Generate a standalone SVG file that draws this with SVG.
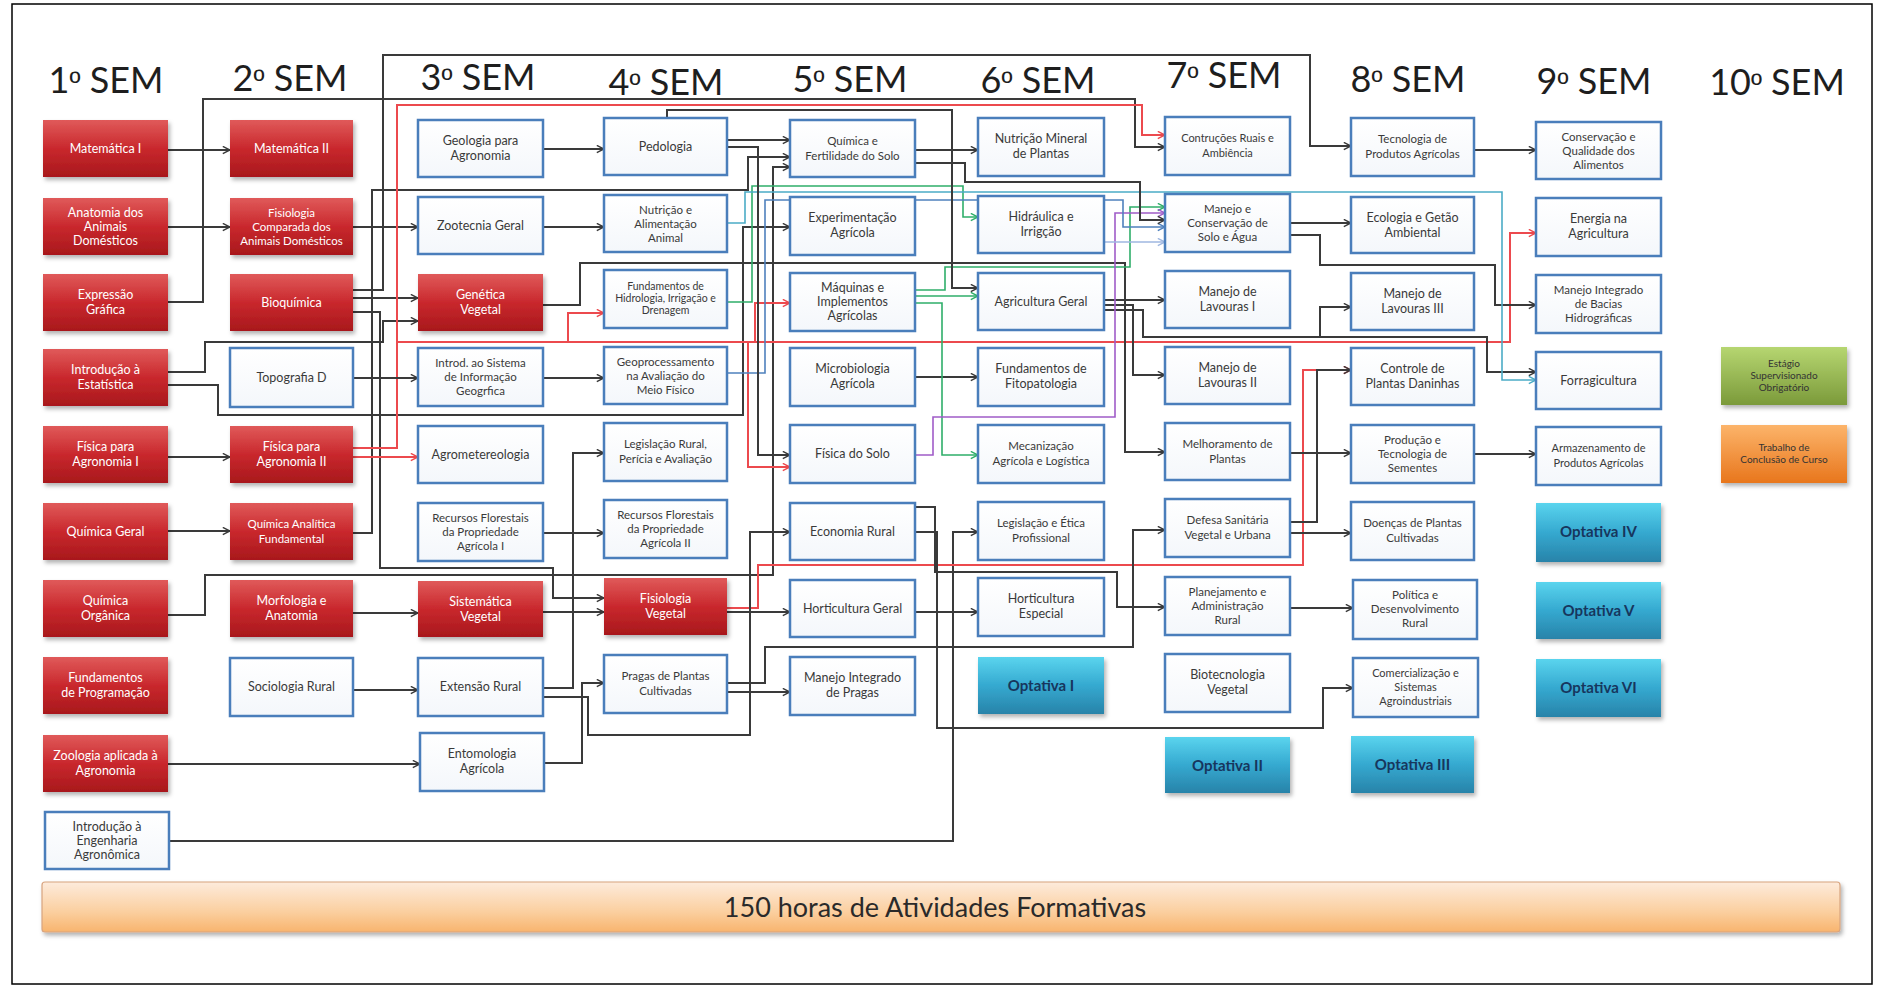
<svg xmlns="http://www.w3.org/2000/svg" width="1881" height="988" viewBox="0 0 1881 988">
<style>
.hd{font-family:Lato,"Liberation Sans",sans-serif;font-size:36px;fill:#1e1e1e;text-anchor:middle}
.o{font-family:"Liberation Sans",sans-serif;font-size:30px}
.t{font-family:Lato,"Liberation Sans",sans-serif;font-size:12.5px;text-anchor:middle}
.tw{fill:#ffffff}
.td{fill:#3a3a3a}
.to{font-family:Lato,"Liberation Sans",sans-serif;font-size:15px;font-weight:bold;text-anchor:middle;fill:#17365d}
.ts{font-family:Lato,"Liberation Sans",sans-serif;font-size:10px;fill:#333;text-anchor:middle}
.red{fill:url(#gRed);filter:url(#sh)}
.wht{fill:url(#gWht);stroke:#4a7ebb;stroke-width:2.5}
.opt{fill:url(#gOpt);filter:url(#sh)}
.c{fill:none;stroke-linejoin:miter}
.k{stroke:#3a3a3a;stroke-width:2;marker-end:url(#ak)}
.r{stroke:#ec4a4e;stroke-width:2;marker-end:url(#ar)}
.g{stroke:#2fae6a;stroke-width:1.6;marker-end:url(#ag)}
.cy{stroke:#4bacc6;stroke-width:1.6;marker-end:url(#ac)}
.b{stroke:#4f81bd;stroke-width:1.6;marker-end:url(#ab)}
.p{stroke:#a05cc8;stroke-width:1.6;marker-end:url(#ap)}
.lv{stroke:#9fb7e0;stroke-width:1.6;marker-end:url(#al)}
</style>
<defs>
<linearGradient id="gRed" x1="0" y1="0" x2="0" y2="1"><stop offset="0" stop-color="#e05a5a"/><stop offset="0.5" stop-color="#c9282d"/><stop offset="1" stop-color="#a8181c"/></linearGradient>
<linearGradient id="gWht" x1="0" y1="0" x2="0" y2="1"><stop offset="0" stop-color="#ffffff"/><stop offset="1" stop-color="#f4f7fb"/></linearGradient>
<linearGradient id="gOpt" x1="0" y1="0" x2="0" y2="1"><stop offset="0" stop-color="#5ad4ee"/><stop offset="0.5" stop-color="#35a9d0"/><stop offset="1" stop-color="#2883a9"/></linearGradient>
<linearGradient id="gGrn" x1="0" y1="0" x2="0" y2="1"><stop offset="0" stop-color="#b6d671"/><stop offset="1" stop-color="#7b9a3a"/></linearGradient>
<linearGradient id="gOrg" x1="0" y1="0" x2="0" y2="1"><stop offset="0" stop-color="#fcb46a"/><stop offset="1" stop-color="#e8761c"/></linearGradient>
<linearGradient id="gBar" x1="0" y1="0" x2="0" y2="1"><stop offset="0" stop-color="#fdebdc"/><stop offset="0.6" stop-color="#fbcf9f"/><stop offset="1" stop-color="#f8b46e"/></linearGradient>
<filter id="sh" x="-10%" y="-10%" width="125%" height="135%"><feDropShadow dx="2" dy="3" stdDeviation="2" flood-color="#000" flood-opacity="0.3"/></filter>
<marker id="ak" viewBox="0 0 10 10" refX="9" refY="5" markerWidth="9" markerHeight="9" markerUnits="userSpaceOnUse" orient="auto"><path d="M1,1 L9,5 L1,9" fill="none" stroke="#3a3a3a" stroke-width="1.6"/></marker>
<marker id="ar" viewBox="0 0 10 10" refX="9" refY="5" markerWidth="9" markerHeight="9" markerUnits="userSpaceOnUse" orient="auto"><path d="M1,1 L9,5 L1,9" fill="none" stroke="#ec4a4e" stroke-width="1.6"/></marker>
<marker id="ag" viewBox="0 0 10 10" refX="9" refY="5" markerWidth="9" markerHeight="9" markerUnits="userSpaceOnUse" orient="auto"><path d="M1,1 L9,5 L1,9" fill="none" stroke="#2fae6a" stroke-width="1.6"/></marker>
<marker id="ac" viewBox="0 0 10 10" refX="9" refY="5" markerWidth="9" markerHeight="9" markerUnits="userSpaceOnUse" orient="auto"><path d="M1,1 L9,5 L1,9" fill="none" stroke="#4bacc6" stroke-width="1.6"/></marker>
<marker id="ab" viewBox="0 0 10 10" refX="9" refY="5" markerWidth="9" markerHeight="9" markerUnits="userSpaceOnUse" orient="auto"><path d="M1,1 L9,5 L1,9" fill="none" stroke="#4f81bd" stroke-width="1.6"/></marker>
<marker id="ap" viewBox="0 0 10 10" refX="9" refY="5" markerWidth="9" markerHeight="9" markerUnits="userSpaceOnUse" orient="auto"><path d="M1,1 L9,5 L1,9" fill="none" stroke="#a05cc8" stroke-width="1.6"/></marker>
<marker id="al" viewBox="0 0 10 10" refX="9" refY="5" markerWidth="9" markerHeight="9" markerUnits="userSpaceOnUse" orient="auto"><path d="M1,1 L9,5 L1,9" fill="none" stroke="#9fb7e0" stroke-width="1.6"/></marker>
</defs>
<rect x="0" y="0" width="1881" height="988" fill="#ffffff"/>
<rect x="12" y="4" width="1860" height="980" fill="none" stroke="#000" stroke-width="1.5"/>

<g id="headers">
<text class="hd" x="106" y="93">1<tspan class="o">º</tspan> SEM</text>
<text class="hd" x="290" y="91">2<tspan class="o">º</tspan> SEM</text>
<text class="hd" x="478" y="90">3<tspan class="o">º</tspan> SEM</text>
<text class="hd" x="666" y="95">4<tspan class="o">º</tspan> SEM</text>
<text class="hd" x="850" y="92">5<tspan class="o">º</tspan> SEM</text>
<text class="hd" x="1038" y="93">6<tspan class="o">º</tspan> SEM</text>
<text class="hd" x="1224" y="88">7<tspan class="o">º</tspan> SEM</text>
<text class="hd" x="1408" y="92">8<tspan class="o">º</tspan> SEM</text>
<text class="hd" x="1594" y="94">9<tspan class="o">º</tspan> SEM</text>
<text class="hd" x="1777" y="95">10<tspan class="o">º</tspan> SEM</text>
</g>

<g id="connectors">
<path class="c k" d="M168,150 H230"/>
<path class="c k" d="M168,227 H230"/>
<path class="c k" d="M168,302 H203 V99 H1135 V147 H1165"/>
<path class="c k" d="M168,372 H205 V342 H383 V321 H418"/>
<path class="c k" d="M168,385 H218 V415 H743 V227 H790"/>
<path class="c k" d="M168,457 H230"/>
<path class="c k" d="M168,531 H230"/>
<path class="c k" d="M168,615 H205 V575 H773 V167 H790"/>
<path class="c k" d="M168,764 H420"/>
<path class="c k" d="M169,841 H953 V532 H978"/>
<path class="c k" d="M353,227 H418"/>
<path class="c k" d="M353,290 H383 V55 H1310 V146 H1351"/>
<path class="c k" d="M353,298 H418"/>
<path class="c k" d="M353,312 H380 V568 H553 V598 H604"/>
<path class="c k" d="M353,533 H372 V190 H748 V157 H790"/>
<path class="c r" d="M353,457 H418"/>
<path class="c r" d="M353,448 H397 V105 H1142 V135 H1165"/>
<path class="c r" d="M397,342 H1510 V233 H1536"/>
<path class="c r" d="M568,342 V313 H604"/>
<path class="c r" d="M755,342 V303 H790"/>
<path class="c r" d="M748,342 V467 H790"/>
<path class="c r" d="M727,608 H758 V565 H1303 V370 H1351"/>
<path class="c k" d="M543,149 H604"/>
<path class="c k" d="M543,227 H604"/>
<path class="c k" d="M543,305 H580 V263 H1125 V452 H1165"/>
<path class="c k" d="M1104,300 H1165"/>
<path class="c k" d="M1104,305 H1133 V375 H1165"/>
<path class="c k" d="M1104,310 H1143 V337 H1320 V307 H1351"/>
<path class="c k" d="M1320,337 H1487 V372 H1536"/>
<path class="c k" d="M543,378 H604"/>
<path class="c k" d="M353,378 H418"/>
<path class="c k" d="M543,533 H604"/>
<path class="c k" d="M353,613 H418"/>
<path class="c k" d="M543,612 H604"/>
<path class="c k" d="M353,690 H418"/>
<path class="c k" d="M543,688 H573 V453 H604"/>
<path class="c k" d="M543,697 H588 V735 H750 V532 H790"/>
<path class="c k" d="M544,763 H582 V683 H604"/>
<path class="c k" d="M727,692 H790"/>
<path class="c k" d="M727,683 H765 V647 H1133 V530 H1165"/>
<path class="c k" d="M727,612 H790"/>
<path class="c k" d="M915,612 H978"/>
<path class="c k" d="M915,532 H937 V728 H1323 V688 H1353"/>
<path class="c k" d="M915,507 H935 V572 H1117 V607 H1165"/>
<path class="c k" d="M1290,453 H1351"/>
<path class="c k" d="M1474,454 H1536"/>
<path class="c k" d="M1474,150 H1536"/>
<path class="c k" d="M1290,223 H1351"/>
<path class="c k" d="M1290,235 H1320 V265 H1495 V305 H1536"/>
<path class="c k" d="M1290,522 H1317 V370 H1351"/>
<path class="c k" d="M1290,533 H1351"/>
<path class="c k" d="M1290,608 H1353"/>
<path class="c k" d="M915,377 H978"/>
<path class="c g" d="M915,303 H942 V455 H978"/>
<path class="c g" d="M915,296 H978"/>
<path class="c g" d="M915,290 H945 V267 H1130 V207 H1165"/>
<path class="c p" d="M915,455 H933 V417 H1115 V213 H1165"/>
<path class="c g" d="M727,302 H752 V186 H963 V217 H978"/>
<path class="c cy" d="M727,223 H745 V192 H1502 V380 H1536"/>
<path class="c b" d="M727,373 H765 V200 H1123 V227 H1165"/>
<path class="c lv" d="M1104,242 H1165"/>
<path class="c k" d="M727,140 H790"/>
<path class="c k" d="M727,147 H758 V455 H790"/>
<path class="c k" d="M667,118 V110 H952 V288 H978"/>
<path class="c k" d="M915,150 H978"/>
<path class="c k" d="M915,163 H965 V182 H1140 V220 H1165"/>
</g>

<g id="sem1">
<g id="n-mat1"><rect class="red" x="43" y="120" width="125" height="57"/><text class="t tw" x="105.5" y="152.5">Matemática I</text></g>
<g id="n-anat"><rect class="red" x="43" y="198" width="125" height="57"/><text class="t tw" x="105.5" y="216.5"><tspan x="105.5">Anatomia dos</tspan><tspan x="105.5" dy="14">Animais</tspan><tspan x="105.5" dy="14">Domésticos</tspan></text></g>
<g id="n-expr"><rect class="red" x="43" y="274" width="125" height="57"/><text class="t tw" x="105.5" y="299"><tspan x="105.5">Expressão</tspan><tspan x="105.5" dy="15">Gráfica</tspan></text></g>
<g id="n-iest"><rect class="red" x="43" y="349" width="125" height="57"/><text class="t tw" x="105.5" y="374"><tspan x="105.5">Introdução à</tspan><tspan x="105.5" dy="15">Estatística</tspan></text></g>
<g id="n-fis1"><rect class="red" x="43" y="426" width="125" height="57"/><text class="t tw" x="105.5" y="451"><tspan x="105.5">Física para</tspan><tspan x="105.5" dy="15">Agronomia I</tspan></text></g>
<g id="n-qgeral"><rect class="red" x="43" y="503" width="125" height="57"/><text class="t tw" x="105.5" y="535.5">Química Geral</text></g>
<g id="n-qorg"><rect class="red" x="43" y="580" width="125" height="57"/><text class="t tw" x="105.5" y="605"><tspan x="105.5">Química</tspan><tspan x="105.5" dy="15">Orgânica</tspan></text></g>
<g id="n-fprog"><rect class="red" x="43" y="657" width="125" height="57"/><text class="t tw" x="105.5" y="682"><tspan x="105.5">Fundamentos</tspan><tspan x="105.5" dy="15">de Programação</tspan></text></g>
<g id="n-zoo"><rect class="red" x="43" y="735" width="125" height="57"/><text class="t tw" x="105.5" y="760"><tspan x="105.5">Zoologia aplicada à</tspan><tspan x="105.5" dy="15">Agronomia</tspan></text></g>
<g id="n-ieng"><rect class="wht" x="45" y="812" width="124" height="57"/><text class="t td" x="107" y="830.5"><tspan x="107">Introdução à</tspan><tspan x="107" dy="14">Engenharia</tspan><tspan x="107" dy="14">Agronômica</tspan></text></g>
</g>

<g id="sem2">
<g id="n-mat2"><rect class="red" x="230" y="120" width="123" height="57"/><text class="t tw" x="291.5" y="152.5">Matemática II</text></g>
<g id="n-fisioc"><rect class="red" x="230" y="198" width="123" height="57"/><text class="t tw" x="291.5" y="216.5" style="font-size:11.5px"><tspan x="291.5">Fisiologia</tspan><tspan x="291.5" dy="14">Comparada dos</tspan><tspan x="291.5" dy="14">Animais Domésticos</tspan></text></g>
<g id="n-bioq"><rect class="red" x="230" y="274" width="123" height="57"/><text class="t tw" x="291.5" y="306.5">Bioquímica</text></g>
<g id="n-topo"><rect class="wht" x="230" y="348" width="123" height="59"/><text class="t td" x="291.5" y="381.5">Topografia D</text></g>
<g id="n-fis2"><rect class="red" x="230" y="426" width="123" height="57"/><text class="t tw" x="291.5" y="451"><tspan x="291.5">Física para</tspan><tspan x="291.5" dy="15">Agronomia II</tspan></text></g>
<g id="n-qanal"><rect class="red" x="230" y="503" width="123" height="57"/><text class="t tw" x="291.5" y="528" style="font-size:11.5px"><tspan x="291.5">Química Analítica</tspan><tspan x="291.5" dy="15">Fundamental</tspan></text></g>
<g id="n-morf"><rect class="red" x="230" y="580" width="123" height="57"/><text class="t tw" x="291.5" y="605"><tspan x="291.5">Morfologia e</tspan><tspan x="291.5" dy="15">Anatomia</tspan></text></g>
<g id="n-socio"><rect class="wht" x="230" y="658" width="123" height="58"/><text class="t td" x="291.5" y="690.5">Sociologia Rural</text></g>
</g>

<g id="sem3">
<g id="n-geol"><rect class="wht" x="418" y="120" width="125" height="57"/><text class="t td" x="480.5" y="145"><tspan x="480.5">Geologia para</tspan><tspan x="480.5" dy="15">Agronomia</tspan></text></g>
<g id="n-zoot"><rect class="wht" x="418" y="197" width="125" height="57"/><text class="t td" x="480.5" y="229.5">Zootecnia Geral</text></g>
<g id="n-gen"><rect class="red" x="418" y="274" width="125" height="57"/><text class="t tw" x="480.5" y="299"><tspan x="480.5">Genética</tspan><tspan x="480.5" dy="15">Vegetal</tspan></text></g>
<g id="n-sig"><rect class="wht" x="418" y="348" width="125" height="58"/><text class="t td" x="480.5" y="366.5" style="font-size:11.5px"><tspan x="480.5">Introd. ao Sistema</tspan><tspan x="480.5" dy="14">de Informação</tspan><tspan x="480.5" dy="14">Geogrfica</tspan></text></g>
<g id="n-agromet"><rect class="wht" x="418" y="426" width="125" height="57"/><text class="t td" x="480.5" y="458.5">Agrometereologia</text></g>
<g id="n-rf1"><rect class="wht" x="418" y="503" width="125" height="58"/><text class="t td" x="480.5" y="521.5" style="font-size:11.5px"><tspan x="480.5">Recursos Florestais</tspan><tspan x="480.5" dy="14">da Propriedade</tspan><tspan x="480.5" dy="14">Agrícola I</tspan></text></g>
<g id="n-sist"><rect class="red" x="418" y="581" width="125" height="56"/><text class="t tw" x="480.5" y="606"><tspan x="480.5">Sistemática</tspan><tspan x="480.5" dy="15">Vegetal</tspan></text></g>
<g id="n-ext"><rect class="wht" x="418" y="658" width="125" height="58"/><text class="t td" x="480.5" y="690.5">Extensão Rural</text></g>
<g id="n-ento"><rect class="wht" x="420" y="733" width="124" height="58"/><text class="t td" x="482" y="758"><tspan x="482">Entomologia</tspan><tspan x="482" dy="15">Agrícola</tspan></text></g>
</g>

<g id="sem4">
<g id="n-pedo"><rect class="wht" x="604" y="118" width="123" height="57"/><text class="t td" x="665.5" y="150.5">Pedologia</text></g>
<g id="n-nutan"><rect class="wht" x="604" y="195" width="123" height="57"/><text class="t td" x="665.5" y="213.5" style="font-size:11.5px"><tspan x="665.5">Nutrição e</tspan><tspan x="665.5" dy="14">Alimentação</tspan><tspan x="665.5" dy="14">Animal</tspan></text></g>
<g id="n-hidro"><rect class="wht" x="604" y="270" width="123" height="58"/><text class="t td" x="665.5" y="290" style="font-size:10.5px"><tspan x="665.5">Fundamentos de</tspan><tspan x="665.5" dy="12">Hidrologia, Irrigação e</tspan><tspan x="665.5" dy="12">Drenagem</tspan></text></g>
<g id="n-geop"><rect class="wht" x="604" y="347" width="123" height="57"/><text class="t td" x="665.5" y="365.5" style="font-size:11.5px"><tspan x="665.5">Geoprocessamento</tspan><tspan x="665.5" dy="14">na Avaliação do</tspan><tspan x="665.5" dy="14">Meio Físico</tspan></text></g>
<g id="n-legr"><rect class="wht" x="604" y="423" width="123" height="58"/><text class="t td" x="665.5" y="448" style="font-size:11.5px"><tspan x="665.5">Legislação Rural,</tspan><tspan x="665.5" dy="15">Perícia e Avaliação</tspan></text></g>
<g id="n-rf2"><rect class="wht" x="604" y="500" width="123" height="58"/><text class="t td" x="665.5" y="518.5" style="font-size:11.5px"><tspan x="665.5">Recursos Florestais</tspan><tspan x="665.5" dy="14">da Propriedade</tspan><tspan x="665.5" dy="14">Agrícola II</tspan></text></g>
<g id="n-fisiov"><rect class="red" x="604" y="578" width="123" height="57"/><text class="t tw" x="665.5" y="603"><tspan x="665.5">Fisiologia</tspan><tspan x="665.5" dy="15">Vegetal</tspan></text></g>
<g id="n-prag"><rect class="wht" x="604" y="655" width="123" height="58"/><text class="t td" x="665.5" y="680" style="font-size:11.5px"><tspan x="665.5">Pragas de Plantas</tspan><tspan x="665.5" dy="15">Cultivadas</tspan></text></g>
</g>

<g id="sem5">
<g id="n-qfs"><rect class="wht" x="790" y="120" width="125" height="57"/><text class="t td" x="852.5" y="145" style="font-size:11.5px"><tspan x="852.5">Química e</tspan><tspan x="852.5" dy="15">Fertilidade do Solo</tspan></text></g>
<g id="n-exp"><rect class="wht" x="790" y="197" width="125" height="58"/><text class="t td" x="852.5" y="222"><tspan x="852.5">Experimentação</tspan><tspan x="852.5" dy="15">Agrícola</tspan></text></g>
<g id="n-maq"><rect class="wht" x="790" y="273" width="125" height="58"/><text class="t td" x="852.5" y="291.5"><tspan x="852.5">Máquinas e</tspan><tspan x="852.5" dy="14">Implementos</tspan><tspan x="852.5" dy="14">Agrícolas</tspan></text></g>
<g id="n-micro"><rect class="wht" x="790" y="348" width="125" height="58"/><text class="t td" x="852.5" y="373"><tspan x="852.5">Microbiologia</tspan><tspan x="852.5" dy="15">Agrícola</tspan></text></g>
<g id="n-fsolo"><rect class="wht" x="790" y="425" width="125" height="58"/><text class="t td" x="852.5" y="457.5">Física do Solo</text></g>
<g id="n-econ"><rect class="wht" x="790" y="503" width="125" height="57"/><text class="t td" x="852.5" y="535.5">Economia Rural</text></g>
<g id="n-hortg"><rect class="wht" x="790" y="580" width="125" height="57"/><text class="t td" x="852.5" y="612.5">Horticultura Geral</text></g>
<g id="n-mip"><rect class="wht" x="790" y="657" width="125" height="58"/><text class="t td" x="852.5" y="682"><tspan x="852.5">Manejo Integrado</tspan><tspan x="852.5" dy="15">de Pragas</tspan></text></g>
</g>

<g id="sem6">
<g id="n-nutmin"><rect class="wht" x="978" y="118" width="126" height="58"/><text class="t td" x="1041" y="143"><tspan x="1041">Nutrição Mineral</tspan><tspan x="1041" dy="15">de Plantas</tspan></text></g>
<g id="n-hidra"><rect class="wht" x="978" y="196" width="126" height="57"/><text class="t td" x="1041" y="221"><tspan x="1041">Hidráulica e</tspan><tspan x="1041" dy="15">Irrigção</tspan></text></g>
<g id="n-agrig"><rect class="wht" x="978" y="273" width="126" height="57"/><text class="t td" x="1041" y="305.5">Agricultura Geral</text></g>
<g id="n-fito"><rect class="wht" x="978" y="348" width="126" height="58"/><text class="t td" x="1041" y="373"><tspan x="1041">Fundamentos de</tspan><tspan x="1041" dy="15">Fitopatologia</tspan></text></g>
<g id="n-mec"><rect class="wht" x="978" y="425" width="126" height="58"/><text class="t td" x="1041" y="450" style="font-size:11.5px"><tspan x="1041">Mecanização</tspan><tspan x="1041" dy="15">Agrícola e Logística</tspan></text></g>
<g id="n-legep"><rect class="wht" x="978" y="502" width="126" height="58"/><text class="t td" x="1041" y="527" style="font-size:11.5px"><tspan x="1041">Legislação e Ética</tspan><tspan x="1041" dy="15">Profissional</tspan></text></g>
<g id="n-horte"><rect class="wht" x="978" y="578" width="126" height="58"/><text class="t td" x="1041" y="603"><tspan x="1041">Horticultura</tspan><tspan x="1041" dy="15">Especial</tspan></text></g>
<g id="n-opt1"><rect class="opt" x="978" y="657" width="126" height="57"/><text class="to" x="1041" y="691" style="fill:#17365d">Optativa I</text></g>
</g>

<g id="sem7">
<g id="n-constr"><rect class="wht" x="1165" y="117" width="125" height="58"/><text class="t td" x="1227.5" y="142" style="font-size:11px"><tspan x="1227.5">Contruções Ruais e</tspan><tspan x="1227.5" dy="15">Ambiência</tspan></text></g>
<g id="n-mcsa"><rect class="wht" x="1165" y="194" width="125" height="58"/><text class="t td" x="1227.5" y="212.5" style="font-size:11.5px"><tspan x="1227.5">Manejo e</tspan><tspan x="1227.5" dy="14">Conservação de</tspan><tspan x="1227.5" dy="14">Solo e Água</tspan></text></g>
<g id="n-lav1"><rect class="wht" x="1165" y="271" width="125" height="57"/><text class="t td" x="1227.5" y="296"><tspan x="1227.5">Manejo de</tspan><tspan x="1227.5" dy="15">Lavouras I</tspan></text></g>
<g id="n-lav2"><rect class="wht" x="1165" y="347" width="125" height="57"/><text class="t td" x="1227.5" y="372"><tspan x="1227.5">Manejo de</tspan><tspan x="1227.5" dy="15">Lavouras II</tspan></text></g>
<g id="n-melh"><rect class="wht" x="1165" y="423" width="125" height="57"/><text class="t td" x="1227.5" y="448" style="font-size:11.5px"><tspan x="1227.5">Melhoramento de</tspan><tspan x="1227.5" dy="15">Plantas</tspan></text></g>
<g id="n-defesa"><rect class="wht" x="1165" y="499" width="125" height="58"/><text class="t td" x="1227.5" y="524" style="font-size:11.5px"><tspan x="1227.5">Defesa Sanitária</tspan><tspan x="1227.5" dy="15">Vegetal e Urbana</tspan></text></g>
<g id="n-plan"><rect class="wht" x="1165" y="577" width="125" height="58"/><text class="t td" x="1227.5" y="595.5" style="font-size:11.5px"><tspan x="1227.5">Planejamento e</tspan><tspan x="1227.5" dy="14">Administração</tspan><tspan x="1227.5" dy="14">Rural</tspan></text></g>
<g id="n-biotec"><rect class="wht" x="1165" y="654" width="125" height="58"/><text class="t td" x="1227.5" y="679"><tspan x="1227.5">Biotecnologia</tspan><tspan x="1227.5" dy="15">Vegetal</tspan></text></g>
<g id="n-opt2"><rect class="opt" x="1165" y="737" width="125" height="56"/><text class="to" x="1227.5" y="771" style="fill:#17365d">Optativa II</text></g>
</g>

<g id="sem8">
<g id="n-tecprod"><rect class="wht" x="1351" y="118" width="123" height="58"/><text class="t td" x="1412.5" y="143" style="font-size:11.5px"><tspan x="1412.5">Tecnologia de</tspan><tspan x="1412.5" dy="15">Produtos Agrícolas</tspan></text></g>
<g id="n-eco"><rect class="wht" x="1351" y="197" width="123" height="56"/><text class="t td" x="1412.5" y="222"><tspan x="1412.5">Ecologia e Getão</tspan><tspan x="1412.5" dy="15">Ambiental</tspan></text></g>
<g id="n-lav3"><rect class="wht" x="1351" y="273" width="123" height="57"/><text class="t td" x="1412.5" y="298"><tspan x="1412.5">Manejo de</tspan><tspan x="1412.5" dy="15">Lavouras III</tspan></text></g>
<g id="n-ctrl"><rect class="wht" x="1351" y="348" width="123" height="57"/><text class="t td" x="1412.5" y="373"><tspan x="1412.5">Controle de</tspan><tspan x="1412.5" dy="15">Plantas Daninhas</tspan></text></g>
<g id="n-sem"><rect class="wht" x="1351" y="425" width="123" height="58"/><text class="t td" x="1412.5" y="443.5" style="font-size:11.5px"><tspan x="1412.5">Produção e</tspan><tspan x="1412.5" dy="14">Tecnologia de</tspan><tspan x="1412.5" dy="14">Sementes</tspan></text></g>
<g id="n-doen"><rect class="wht" x="1351" y="502" width="123" height="58"/><text class="t td" x="1412.5" y="527" style="font-size:11.5px"><tspan x="1412.5">Doenças de Plantas</tspan><tspan x="1412.5" dy="15">Cultivadas</tspan></text></g>
<g id="n-pol"><rect class="wht" x="1353" y="580" width="124" height="59"/><text class="t td" x="1415" y="598.5" style="font-size:11.5px"><tspan x="1415">Política e</tspan><tspan x="1415" dy="14">Desenvolvimento</tspan><tspan x="1415" dy="14">Rural</tspan></text></g>
<g id="n-com"><rect class="wht" x="1353" y="658" width="125" height="59"/><text class="t td" x="1415.5" y="676.5" style="font-size:11px"><tspan x="1415.5">Comercialização e</tspan><tspan x="1415.5" dy="14">Sistemas</tspan><tspan x="1415.5" dy="14">Agroindustriais</tspan></text></g>
<g id="n-opt3"><rect class="opt" x="1351" y="736" width="123" height="57"/><text class="to" x="1412.5" y="770" style="fill:#17365d">Optativa III</text></g>
</g>

<g id="sem9">
<g id="n-cons"><rect class="wht" x="1536" y="122" width="125" height="57"/><text class="t td" x="1598.5" y="140.5" style="font-size:11.5px"><tspan x="1598.5">Conservação e</tspan><tspan x="1598.5" dy="14">Qualidade dos</tspan><tspan x="1598.5" dy="14">Alimentos</tspan></text></g>
<g id="n-ener"><rect class="wht" x="1536" y="198" width="125" height="58"/><text class="t td" x="1598.5" y="223"><tspan x="1598.5">Energia na</tspan><tspan x="1598.5" dy="15">Agricultura</tspan></text></g>
<g id="n-bac"><rect class="wht" x="1536" y="275" width="125" height="58"/><text class="t td" x="1598.5" y="293.5" style="font-size:11.5px"><tspan x="1598.5">Manejo Integrado</tspan><tspan x="1598.5" dy="14">de Bacias</tspan><tspan x="1598.5" dy="14">Hidrográficas</tspan></text></g>
<g id="n-forr"><rect class="wht" x="1536" y="352" width="125" height="57"/><text class="t td" x="1598.5" y="384.5">Forragicultura</text></g>
<g id="n-arm"><rect class="wht" x="1536" y="427" width="125" height="58"/><text class="t td" x="1598.5" y="452" style="font-size:11px"><tspan x="1598.5">Armazenamento de</tspan><tspan x="1598.5" dy="15">Produtos Agrícolas</tspan></text></g>
<g id="n-opt4"><rect class="opt" x="1536" y="503" width="125" height="59"/><text class="to" x="1598.5" y="537" style="fill:#17365d">Optativa IV</text></g>
<g id="n-opt5"><rect class="opt" x="1536" y="582" width="125" height="57"/><text class="to" x="1598.5" y="616" style="fill:#17365d">Optativa V</text></g>
<g id="n-opt6"><rect class="opt" x="1536" y="659" width="125" height="58"/><text class="to" x="1598.5" y="693" style="fill:#17365d">Optativa VI</text></g>
</g>

<g id="sem10">
<g id="n-est"><rect x="1721" y="347" width="126" height="58" fill="url(#gGrn)" filter="url(#sh)"/><text class="ts" x="1784" y="367"><tspan x="1784">Estágio</tspan><tspan x="1784" dy="12">Supervisionado</tspan><tspan x="1784" dy="12">Obrigatório</tspan></text></g>
<g id="n-tcc"><rect x="1721" y="425" width="126" height="58" fill="url(#gOrg)" filter="url(#sh)"/><text class="ts" x="1784" y="451"><tspan x="1784">Trabalho de</tspan><tspan x="1784" dy="12">Conclusão de Curso</tspan></text></g>
</g>

<g id="n-atividades">
<rect x="42" y="882" width="1798" height="50" rx="3" fill="url(#gBar)" stroke="#d8a47f" stroke-width="1.2" filter="url(#sh)"/>
<text x="935" y="917" style="font-family:Lato,'Liberation Sans',sans-serif;font-size:27px;fill:#2a2a2a;text-anchor:middle">150 horas de Atividades Formativas</text>
</g>
</svg>
